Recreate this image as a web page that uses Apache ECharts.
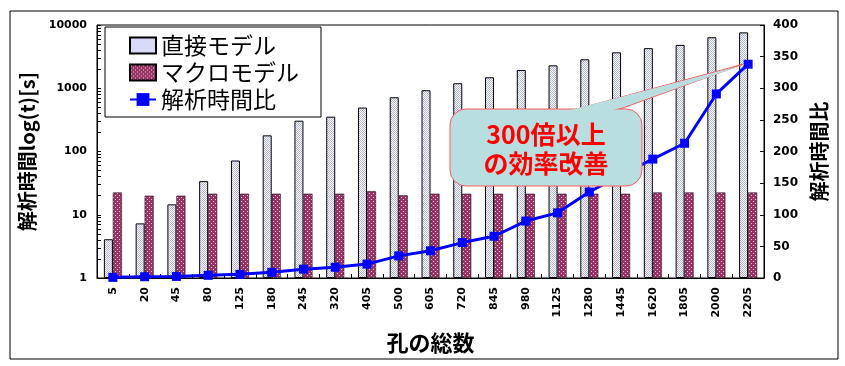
<!DOCTYPE html>
<html>
<head>
<meta charset="utf-8">
<script src="https://cdn.jsdelivr.net/npm/echarts@6/dist/echarts.min.js"></script>
<style>
html,body{margin:0;padding:0;background:#fff;}
#chart{width:845px;height:366px;}
</style>
</head>
<body>
<div id="chart"></div>
<script>
// ---- data ----
const categories = ['5','20','45','80','125','180','245','320','405','500','605','720','845','980','1125','1280','1445','1620','1805','2000','2205'];
const directModel = [4.1, 7.3, 14.6, 34, 72, 180, 307, 355, 495, 720, 930, 1200, 1490, 1940, 2300, 2870, 3700, 4300, 4850, 6400, 7650];
const macroModel = [22.5, 20, 20, 21.5, 21.5, 21.5, 21.5, 21.5, 23.5, 20.3, 21.5, 21.5, 21.5, 21.5, 21.5, 21.5, 21.5, 22.5, 22.5, 22.5, 22.5];
const timeRatio = [1, 2, 2.5, 4.2, 5.8, 9, 14, 17, 22, 35, 43, 56, 66, 90, 103, 136, 163, 188, 213, 291, 338];
const leftLabelValues = [1, 10, 100, 1000, 10000];
const leftTickValues = [1,2,3,4,5,6,7,8,9,10,20,30,40,50,60,70,80,90,100,200,300,400,500,600,700,800,900,1000,2000,3000,4000,5000,6000,7000,8000,9000,10000];
const seriesNames = ['直接モデル', 'マクロモデル', '解析時間比'];
const calloutText = '300倍以上\nの効率改善';

function makePattern(w, h, bg, dots, dotColor) {
  const c = document.createElement('canvas');
  c.width = w; c.height = h;
  const ctx = c.getContext('2d');
  ctx.fillStyle = bg; ctx.fillRect(0, 0, w, h);
  ctx.fillStyle = dotColor;
  dots.forEach(d => ctx.fillRect(d[0], d[1], 1, 1));
  return c;
}
const bluePat = makePattern(2, 2, '#ffffff', [[0,0],[1,1]], '#b4b4f2');
const redPat = makePattern(4, 4, '#993366', [[1,1],[3,3]], '#e8c4d6');

const chart = echarts.init(document.getElementById('chart'), null, {renderer: 'canvas'});
const tickFont = 'DejaVu Sans';
const cjk = '"Noto Sans CJK JP", sans-serif';

chart.setOption({
  animation: false,
  backgroundColor: '#ffffff',
  grid: {left: 97, right: 81, top: 25, bottom: 88, show: true, borderColor: '#000', borderWidth: 1, backgroundColor: 'transparent'},
  legend: {
    orient: 'vertical', left: 105, top: 27,
    backgroundColor: '#fff', borderColor: '#000', borderWidth: 1,
    padding: [7, 22, 6, 24], itemGap: 4, itemWidth: 26, itemHeight: 16,
    textStyle: {fontSize: 23, fontFamily: cjk, color: '#000'},
    data: [{name: seriesNames[0], icon: 'rect'}, {name: seriesNames[1], icon: 'rect'}, {name: seriesNames[2]}]
  },
  xAxis: {
    type: 'category', data: categories, boundaryGap: true,
    name: '孔の総数', nameLocation: 'middle', nameGap: 54,
    nameTextStyle: {fontSize: 22, fontWeight: 'bold', fontFamily: cjk, color: '#000'},
    axisLine: {show: true, lineStyle: {color: '#000', width: 1}},
    axisTick: {show: true, inside: true, length: 4, lineStyle: {color: '#000'}},
    axisLabel: {rotate: 90, interval: 0, fontSize: 11, fontWeight: 'bold', fontFamily: tickFont, color: '#000', margin: 9},
    splitLine: {show: false}
  },
  yAxis: [
    {
      type: 'log', logBase: 10, min: 1, max: 10000, position: 'left',
      name: '解析時間log(t)[s]', nameLocation: 'middle', nameRotate: 90, nameGap: 55,
      nameTextStyle: {fontSize: 20, fontWeight: 'bold', fontFamily: cjk, color: '#000'},
      axisLine: {show: true, lineStyle: {color: '#000', width: 1}},
      axisTick: {show: true, inside: true, length: 4, customValues: leftTickValues, lineStyle: {color: '#000'}},
      axisLabel: {customValues: leftLabelValues, formatter: v => String(Math.round(v)), fontSize: 11, fontWeight: 'bold', fontFamily: tickFont, color: '#000', margin: 10},
      splitLine: {show: false}
    },
    {
      type: 'value', min: 0, max: 400, interval: 50, position: 'right',
      name: '解析時間比', nameLocation: 'middle', nameRotate: 90, nameGap: 39,
      nameTextStyle: {fontSize: 20, fontWeight: 'bold', fontFamily: cjk, color: '#000'},
      axisLine: {show: true, lineStyle: {color: '#000', width: 1}},
      axisTick: {show: true, inside: true, length: 4, lineStyle: {color: '#000'}},
      axisLabel: {fontSize: 12, fontWeight: 'bold', fontFamily: tickFont, color: '#000', margin: 9},
      splitLine: {show: false}
    }
  ],
  series: [
    {
      name: seriesNames[0], type: 'bar', yAxisIndex: 0, data: directModel,
      barWidth: 9, barGap: '0%',
      itemStyle: {color: {image: bluePat, repeat: 'repeat'}, borderColor: '#000', borderWidth: 1}
    },
    {
      name: seriesNames[1], type: 'bar', yAxisIndex: 0, data: macroModel,
      barWidth: 9, barGap: '0%',
      itemStyle: {color: {image: redPat, repeat: 'repeat'}, borderColor: '#000', borderWidth: 0.5}
    },
    {
      name: seriesNames[2], type: 'line', yAxisIndex: 1, data: timeRatio,
      symbol: 'rect', symbolSize: 9, z: 5,
      lineStyle: {color: '#0000ff', width: 3},
      itemStyle: {color: '#0000ff'}
    }
  ]
});

// callout annotation pointing at last ratio point
const lastIdx = timeRatio.length - 1;
const tip = chart.convertToPixel({seriesIndex: 2}, [lastIdx, timeRatio[lastIdx]]);
const box = {x: 450, y: 109, width: 192, height: 77, r: 16};
const baseL = [562, box.y + 1], baseR = [609, box.y + 1];
const fill = '#b8dee0', stroke = '#ff5a5a';
chart.setOption({
  graphic: [
    {type: 'rect', left: 7.5, top: 8.5, shape: {x: 0, y: 0, width: 828, height: 348}, style: {fill: 'none', stroke: '#000', lineWidth: 1}, z: 50, silent: true},
    {type: 'polygon', shape: {points: [[baseL[0], box.y + 4], [tip[0] - 5, tip[1]], [baseR[0], box.y + 4]]}, style: {fill: fill, stroke: stroke, lineWidth: 1}, z: 100},
    {type: 'rect', shape: {x: box.x, y: box.y, width: box.width, height: box.height, r: box.r}, style: {fill: fill, stroke: stroke, lineWidth: 1}, z: 101},
    {type: 'polygon', shape: {points: [[baseL[0] + 1, box.y + 3], [tip[0] - 7, tip[1] + 1.5], [baseR[0] - 1.5, box.y + 3]]}, style: {fill: fill}, z: 102},
    {type: 'text', x: box.x + box.width / 2, y: box.y + box.height / 2 + 1, z: 103,
      style: {text: calloutText, fill: '#ff0000', font: 'bold 25px "Noto Sans CJK JP", sans-serif', align: 'center', verticalAlign: 'middle', lineHeight: 29}}
  ]
});
</script>
</body>
</html>
